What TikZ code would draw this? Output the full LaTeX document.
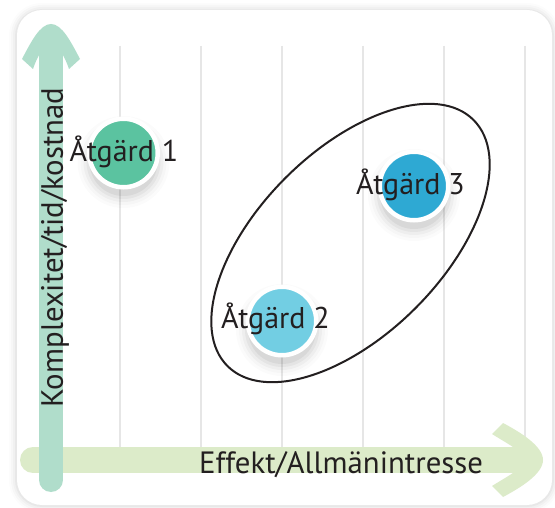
\documentclass[tikz,border=0pt]{standalone}
\usepackage{fontspec}
\setmainfont{PT Sans}
\usetikzlibrary{shapes.geometric}
\definecolor{gridc}{HTML}{E6E6E6}
\definecolor{hbar}{HTML}{DCEBC9}
\definecolor{vbar}{HTML}{B0DDCB}
\definecolor{cA}{HTML}{5BC3A0}
\definecolor{cB}{HTML}{72CEE3}
\definecolor{cC}{HTML}{2EA9D3}
\definecolor{txt}{HTML}{231F20}
\tikzset{
  gridline/.style={draw=gridc, line width=2pt},
  dot/.style={circle, draw=white, line width=4.5pt, minimum size=68.5pt, inner sep=0pt},
  lbl/.style={anchor=base, text=txt, font=\fontsize{30}{30}\selectfont, inner sep=0pt},
  axislbl/.style={anchor=base, text=txt, font=\fontsize{30.8}{31}\selectfont, inner sep=0pt},
}
\newcommand{\softshadow}[2]{%
  \foreach \r/\o in {46/0.015, 43/0.02, 40/0.03, 37/0.04, 34/0.05}{
    \fill[black, opacity=\o] (#1,#2+9) circle (\r pt);
  }}
\begin{document}
\begin{tikzpicture}[x=1pt, y=-1pt]
\useasboundingbox (0,0) rectangle (555,508);
\fill[white] (0,0) rectangle (555,508);
% panel shadow
\foreach \d/\o in {8/0.012, 6/0.018, 4/0.025, 2/0.035}{
  \fill[black, opacity=\o, rounded corners=25pt+\d pt] (17-\d,10-\d+1) rectangle (552+\d,505+\d);
}
\fill[white, rounded corners=25pt] (17,10) rectangle (552,505);
% grid
\foreach \gx in {120,201,282,363,444,525}{
  \draw[gridline] (\gx,46) -- (\gx,455);
}
% horizontal arrow
\draw[hbar, line width=26pt, line cap=round] (33,460) -- (515,460);
\fill[hbar] (492,434) -- (503,423) .. controls (520,432) and (543,446) .. (543,460)
  .. controls (543,474) and (520,488) .. (503,497) -- (492,486)
  .. controls (500,481) and (507,477) .. (513,473) -- (513,447)
  .. controls (507,443) and (500,439) .. (492,434) -- cycle;
% vertical arrow
\draw[vbar, line width=24pt, line cap=round] (51,56) -- (51,480);
\fill[vbar] (33,69) -- (22,59) .. controls (31,42) and (40,24) .. (51,24)
  .. controls (62,24) and (71,42) .. (80,59) -- (69,69)
  .. controls (67,63) and (65,59) .. (63,55) -- (39,55)
  .. controls (37,59) and (35,63) .. (33,69) -- cycle;
% axis labels
\node[axislbl] (xlabel) at (341,473) {Effekt/Allmänintresse};
\node[axislbl, rotate=90] (ylabel) at (63,247.5) {Komplexitet/tid/kostnad};
% ellipse
\node[draw=txt, line width=2pt, ellipse, inner sep=0pt, minimum width=348pt, minimum height=184pt, rotate=45] (group) at (350.5,243) {};
% circles
\softshadow{123.5}{153}
\softshadow{282}{321}
\softshadow{414}{186}
\node[dot, fill=cA] (n1) at (123.5,153) {};
\node[dot, fill=cB] (n2) at (282,321) {};
\node[dot, fill=cC] (n3) at (414,186) {};
\node[lbl] (t1) at (124,162) {Åtgärd 1};
\node[lbl] (t2) at (275.5,328) {Åtgärd 2};
\node[lbl] (t3) at (410.5,195) {Åtgärd 3};
\end{tikzpicture}
\end{document}
